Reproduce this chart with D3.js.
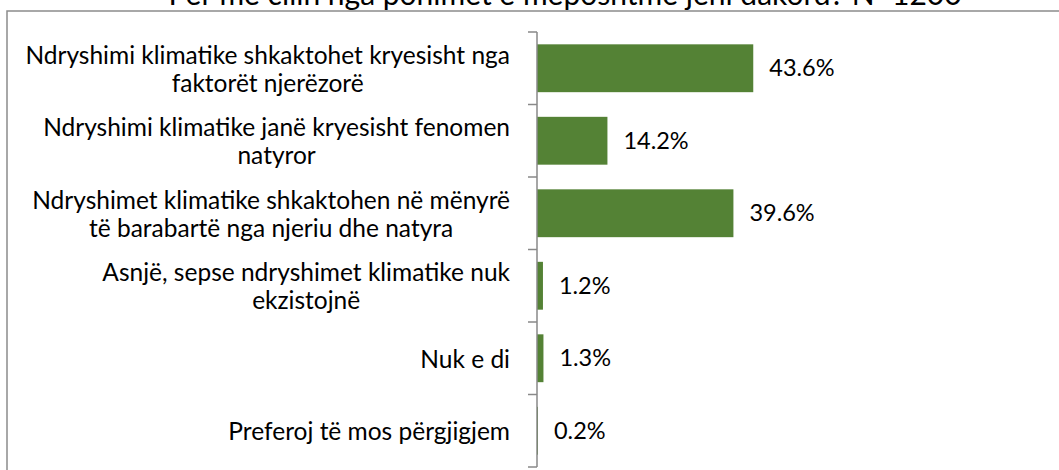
<!DOCTYPE html>
<html><head><meta charset="utf-8">
<script src="https://cdn.jsdelivr.net/npm/d3@7"></script>
<style>html,body{margin:0;padding:0;background:#fff;overflow:hidden}</style>
</head><body>
<svg id="c" width="1059" height="470"></svg>
<script>
const title = "Për me cilin nga pohimet e mëposhtme jeni dakord? N=1200";
const categories = [
  ["Ndryshimi klimatike shkaktohet kryesisht nga", "faktorët njerëzorë"],
  ["Ndryshimi klimatike janë kryesisht fenomen", "natyror"],
  ["Ndryshimet klimatike shkaktohen në mënyrë", "të barabartë nga njeriu dhe natyra"],
  ["Asnjë, sepse ndryshimet klimatike nuk", "ekzistojnë"],
  ["Nuk e di"],
  ["Preferoj të mos përgjigjem"]
];
const values = [43.6, 14.2, 39.6, 1.2, 1.3, 0.2];

const font = "Lato, 'Open Sans', sans-serif";
const fs = 24.5;
const svg = d3.select("#c");

// chart border
svg.append("rect").attr("x", 7).attr("y", 11).attr("width", 1100).attr("height", 500)
  .attr("fill", "none").attr("stroke", "#8c8c8c").attr("stroke-width", 1.5);

// title (clipped at top)
svg.append("text").attr("x", 565).attr("y", 5).attr("text-anchor", "middle")
  .attr("font-family", font).attr("font-size", 30).attr("fill", "#000").text(title);

const idx = d3.range(categories.length);
const y = d3.scaleBand().domain(idx).range([32, 467]).paddingInner(0.34).paddingOuter(0.17);
const x = d3.scaleLinear().domain([0, 100]).range([537, 1033]);

// bars
svg.append("g").selectAll("rect").data(values).join("rect")
  .attr("x", x(0)).attr("y", (d, i) => y(i))
  .attr("width", d => x(d) - x(0)).attr("height", y.bandwidth())
  .attr("fill", "#548235");

// value labels
svg.append("g").selectAll("text").data(values).join("text")
  .attr("x", d => x(d) + 16).attr("y", (d, i) => y(i) + y.bandwidth() / 2)
  .attr("dy", "0.35em").attr("font-family", font).attr("font-size", 23.5).attr("fill", "#000")
  .text(d => d.toFixed(1) + "%");

// axis
const axis = d3.axisLeft(y).tickSize(0).tickFormat("");
const ag = svg.append("g").attr("transform", `translate(${x(0)},0)`).call(axis);
ag.select(".domain").attr("stroke", "#898989").attr("stroke-width", 1.5).attr("d", "M0,32V467");
// boundary ticks
const bounds = idx.map(i => y(i) - y.step() * y.paddingInner() / 2).concat([467]);
ag.selectAll(".bt").data(bounds).join("line").attr("class", "bt")
  .attr("x1", -9).attr("x2", 0).attr("y1", d => d).attr("y2", d => d)
  .attr("stroke", "#898989").attr("stroke-width", 1.5);

// category labels: block right-aligned at 510, lines centered within block
const lh = 28;
const lg = svg.append("g");
categories.forEach((lines, i) => {
  const cy = y(i) + y.bandwidth() / 2 + 1;
  const g = lg.append("g");
  const ts = lines.map((l, j) => g.append("text")
    .attr("y", cy + (j - (lines.length - 1) / 2) * lh).attr("dy", "0.35em")
    .attr("text-anchor", "middle").attr("font-family", font).attr("font-size", fs)
    .attr("fill", "#000").text(l));
  const w = d3.max(ts, t => t.node().getComputedTextLength());
  ts.forEach(t => t.attr("x", 510 - w / 2));
});
</script>
</body></html>
